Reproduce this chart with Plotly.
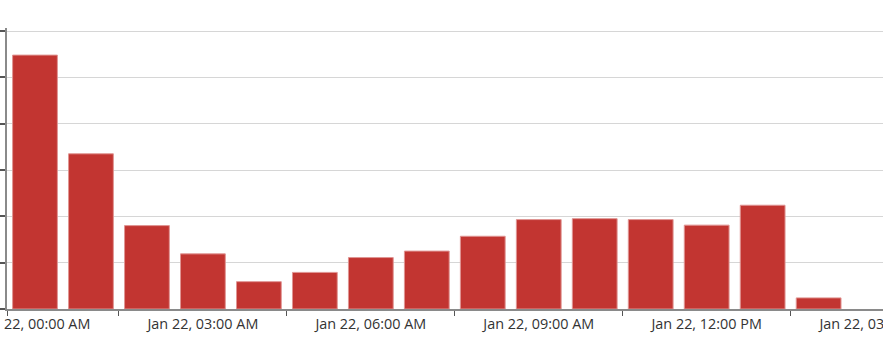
import plotly.graph_objects as go
import pandas as pd

# Data
hours = pd.date_range("2024-01-22 00:00", periods=15, freq="h")
values = [54.8, 33.5, 18.0, 11.9, 5.9, 7.9, 11.1, 12.5, 15.7, 19.3, 19.5, 19.3, 18.1, 22.4, 2.4]
tick_times = pd.date_range("2024-01-22 00:00", periods=6, freq="3h")
tick_labels = ["Jan 22, 00:00 AM", "Jan 22, 03:00 AM", "Jan 22, 06:00 AM",
               "Jan 22, 09:00 AM", "Jan 22, 12:00 PM", "Jan 22, 03:00 PM"]
boundary_ticks = [pd.Timestamp("2024-01-21 23:30")] + list(pd.date_range("2024-01-22 01:30", periods=5, freq="3h"))
y_ticks = [0, 10, 20, 30, 40, 50, 60]

HOUR_MS = 3600 * 1000

fig = go.Figure(go.Bar(
    x=hours, y=values,
    width=[0.8 * HOUR_MS] * len(values),
    marker=dict(color="#c23531", line=dict(color="#e09593", width=1)),
    hoverinfo="x+y",
))

x_start = pd.Timestamp("2024-01-21 23:30")
x_end = x_start + pd.Timedelta(hours=15.65)

fig.update_layout(
    width=883, height=355,
    margin=dict(l=7, r=0, t=28, b=46, autoexpand=False),
    paper_bgcolor="white", plot_bgcolor="white",
    showlegend=False,
    font=dict(family="Open Sans, Segoe UI, sans-serif", size=14.4, color="#333333"),
    xaxis=dict(
        type="date",
        automargin=False,
        range=[x_start, x_end],
        tickmode="array", tickvals=tick_times, ticktext=tick_labels,
        ticks="outside", ticklen=0, tickcolor="#555",
        ticklabeloverflow="allow",
        showline=True, linecolor="#8a8a8a", linewidth=1.5,
        showgrid=False, zeroline=False,
        ticklabelstandoff=1,
        minor=dict(tickmode="array", tickvals=boundary_ticks, ticks="outside",
                   ticklen=5, tickcolor="#555", tickwidth=1, showgrid=False),
    ),
    yaxis=dict(
        automargin=False,
        range=[0, 60.65],
        tickmode="array", tickvals=y_ticks,
        showticklabels=False,
        ticks="outside", ticklen=6, tickcolor="#555", tickwidth=1.5,
        showline=True, linecolor="#8a8a8a", linewidth=2,
        showgrid=True, gridcolor="#d6d6d6", gridwidth=1,
        zeroline=False,
    ),
    bargap=0.2,
)

fig.write_html("out.html")
